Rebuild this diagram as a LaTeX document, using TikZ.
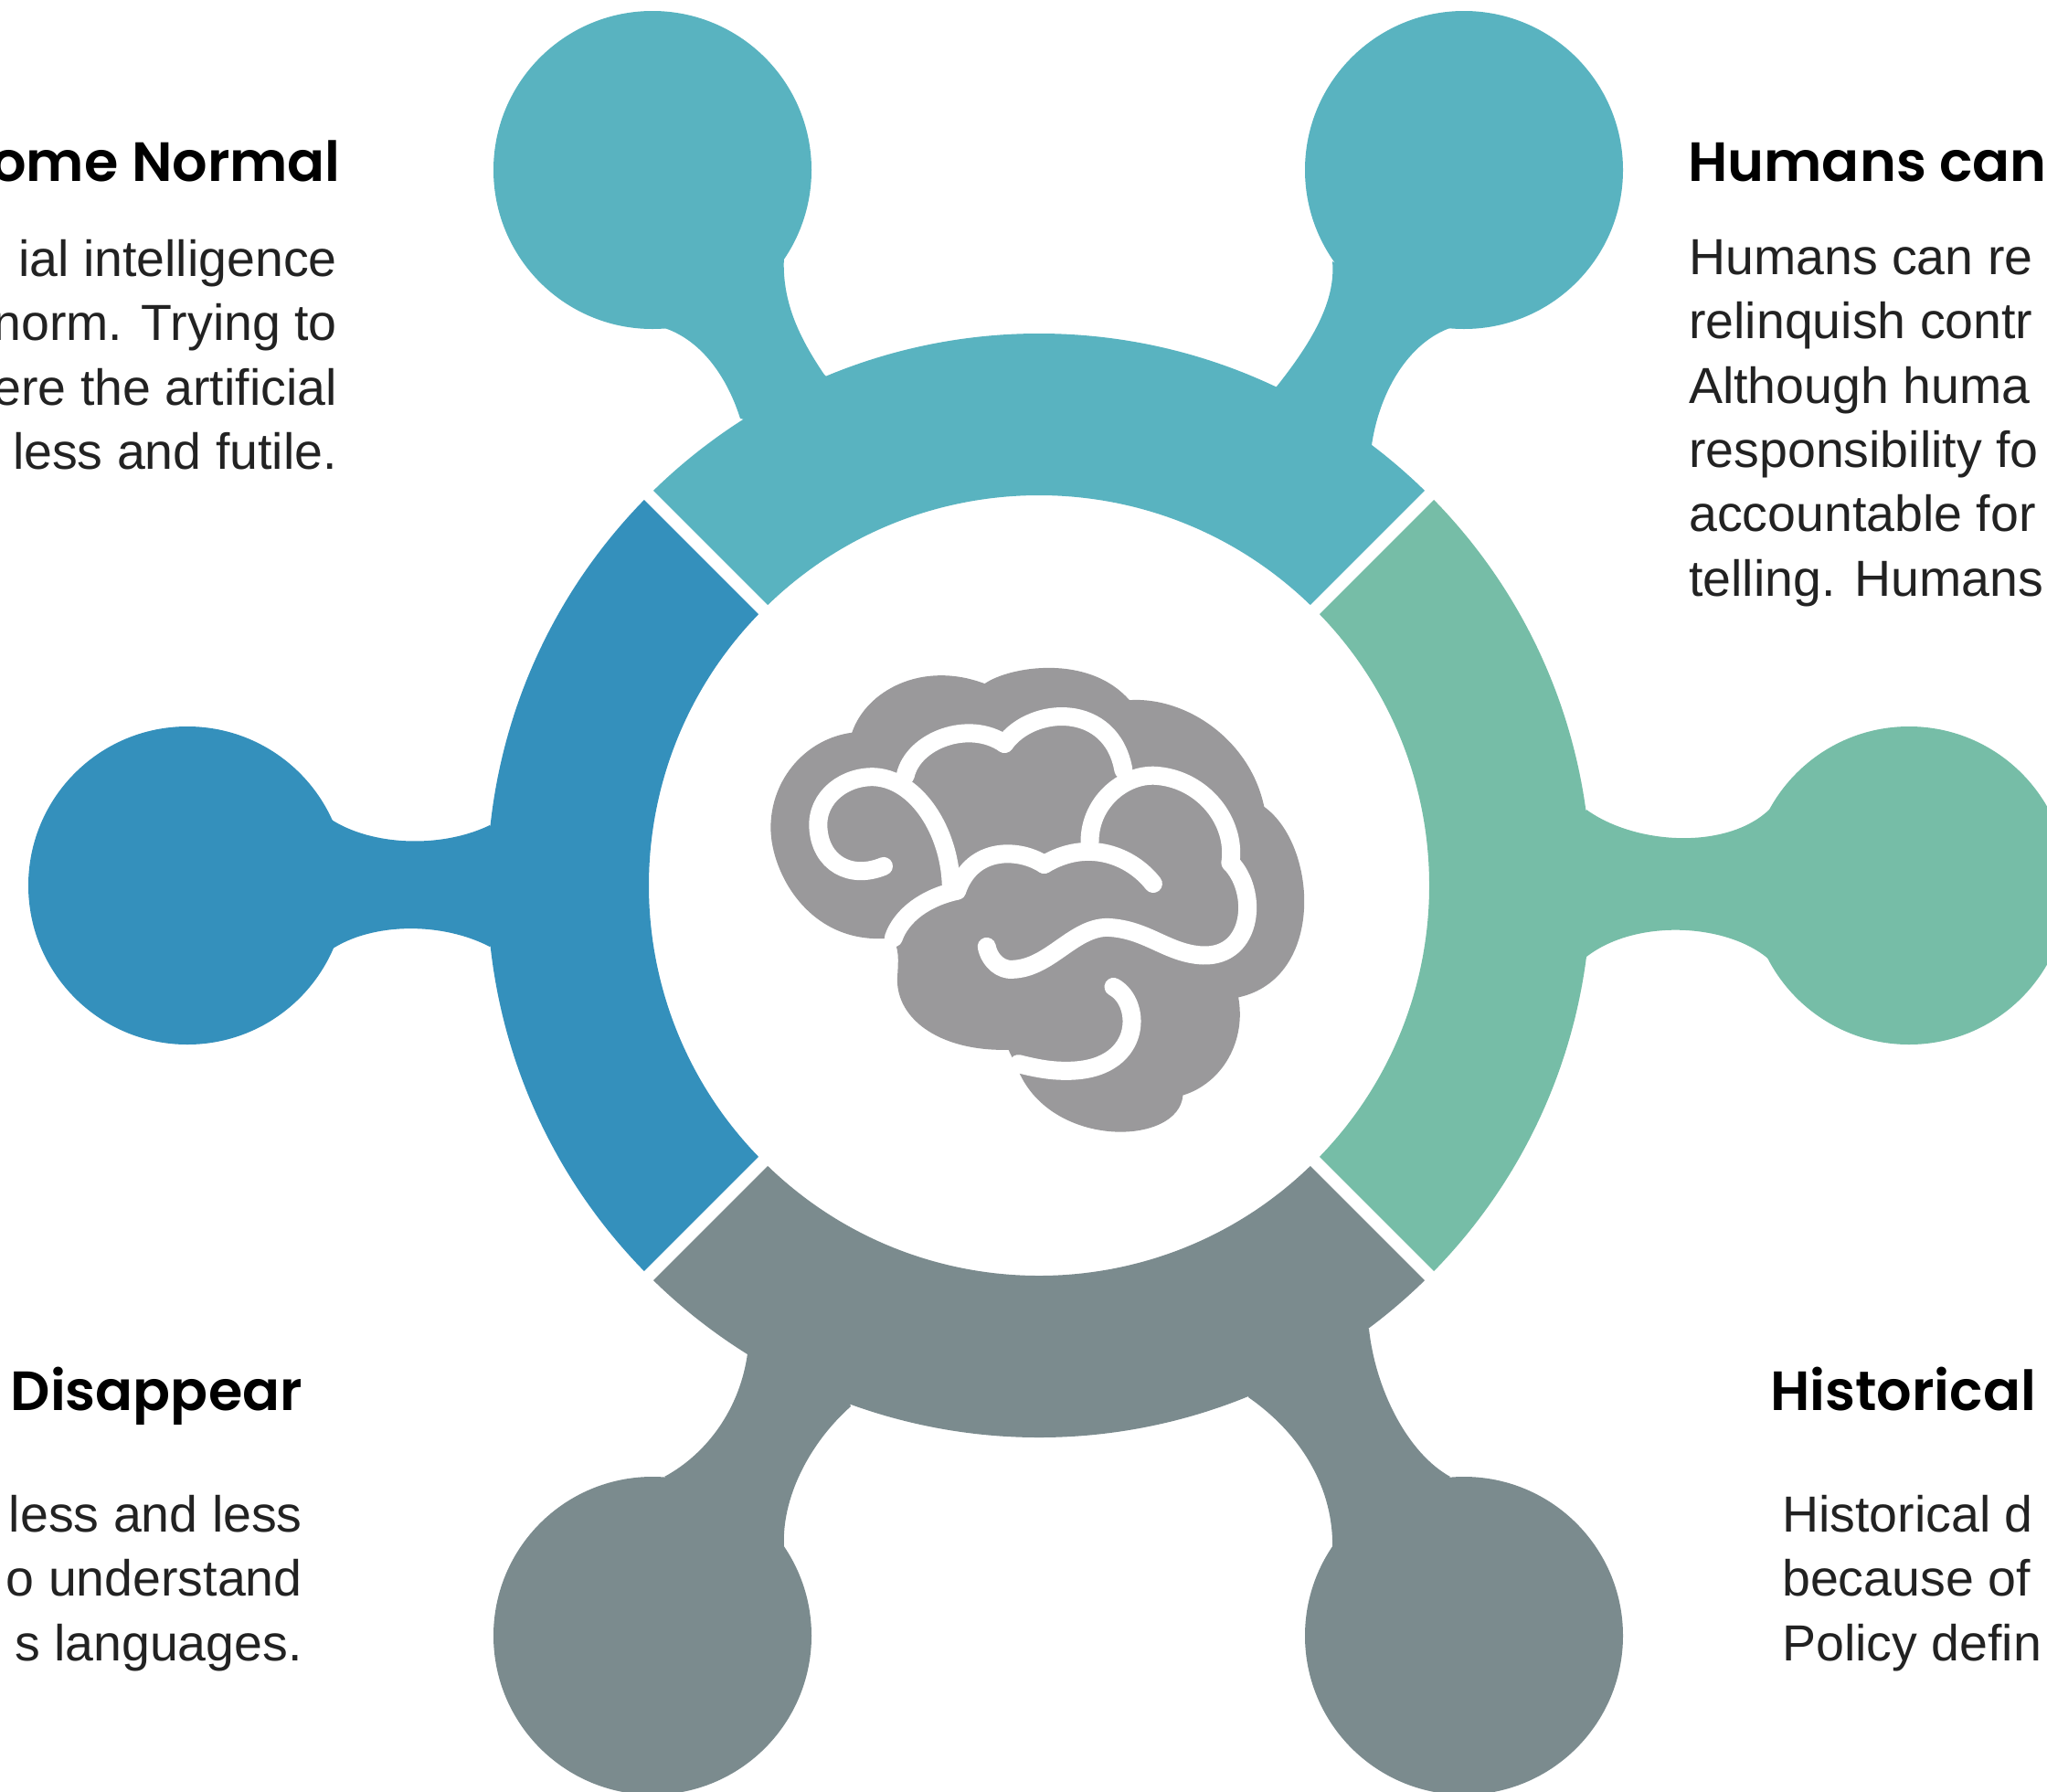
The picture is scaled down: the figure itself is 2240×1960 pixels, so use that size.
\documentclass[tikz,border=0pt]{standalone}
\usepackage{fontspec}
\setmainfont{Liberation Sans}
\newfontfamily\headfont{Poppins SemiBold}
\definecolor{cteal}{HTML}{59B3C0}
\definecolor{cblue}{HTML}{3490BC}
\definecolor{cgreen}{HTML}{76BDA7}
\definecolor{cgrey}{HTML}{7B8B8E}
\definecolor{cbrain}{HTML}{9A999B}
\definecolor{ctext}{HTML}{222222}
\tikzset{
  x=1pt,y=-1pt,
  segm/.style={draw=#1,line width=177pt,line cap=butt},
  gapline/.style={draw=white,line width=14pt},
  fold/.style={draw=white,line width=20pt,line cap=round,line join=round},
  bodytext/.style={inner sep=0pt,text=ctext,font=\fontsize{55.5}{70.4}\selectfont},
  headtext/.style={inner sep=0pt,text=black,font=\headfont\fontsize{60.5}{64}\selectfont},
}
\begin{document}
\begin{tikzpicture}
\clip (0,0) rectangle (2240,1960);
\fill[white] (0,0) rectangle (2240,1960);
\coordinate (c) at (1137,969);
% top left stem and ball
\fill[cteal] (714,186) circle (174pt);
\fill[cteal] (858,280) .. controls (855,330) and (875,370) .. (902,410)
  -- (1000,500) -- (810,458) .. controls (795,410) and (765,370) .. (724,358) -- cycle;
% top right
\fill[cteal] (1602,186) circle (174pt);
\fill[cteal] (1458,286) .. controls (1462,330) and (1435,375) .. (1397,423)
  -- (1300,500) -- (1501,487) .. controls (1510,425) and (1545,370) .. (1593,357) -- cycle;
% left
\fill[cblue] (205,969) circle (174pt);
\fill[cblue] (357,893) .. controls (400,925) and (480,930) .. (536,903)
  -- (600,969) -- (536,1036) .. controls (480,1007) and (400,1010) .. (357,1043) -- cycle;
% right
\fill[cgreen] (2089,969) circle (174pt);
\fill[cgreen] (1936,886) .. controls (1890,930) and (1790,925) .. (1736,886)
  -- (1680,969) -- (1736,1047) .. controls (1790,1005) and (1890,1010) .. (1936,1050) -- cycle;
% bottom left
\fill[cgrey] (714,1790) circle (174pt);
\fill[cgrey] (858,1693) .. controls (855,1640) and (885,1580) .. (931,1539)
  -- (900,1450) -- (818,1481) .. controls (810,1540) and (775,1590) .. (727,1616) -- cycle;
% bottom right
\fill[cgrey] (1602,1790) circle (174pt);
\fill[cgrey] (1458,1696) .. controls (1460,1630) and (1425,1570) .. (1366,1529)
  -- (1400,1450) -- (1498,1454) .. controls (1505,1520) and (1540,1590) .. (1587,1616) -- cycle;
% ring
\draw[segm=cteal]  ([shift={(c)}]135:515.5pt) arc[start angle=135,end angle=45,radius=515.5pt];
\draw[segm=cgreen] ([shift={(c)}]45:515.5pt)  arc[start angle=45,end angle=-45,radius=515.5pt];
\draw[segm=cgrey]  ([shift={(c)}]-45:515.5pt) arc[start angle=-45,end angle=-135,radius=515.5pt];
\draw[segm=cblue]  ([shift={(c)}]225:515.5pt) arc[start angle=225,end angle=135,radius=515.5pt];
\foreach \a in {45,135,225,315}{
  \draw[gapline] ([shift={(c)}]\a:420pt) -- ([shift={(c)}]\a:612pt);
}
% brain
\begin{scope}[shift={(800,680)},x=0.4337pt,y=-0.3827pt]
\fill[cbrain] (640,178) .. controls (700,130) and (900,90) .. (1005,225)
  .. controls (1150,215) and (1310,340) .. (1345,530)
  .. controls (1480,640) and (1500,1020) .. (1280,1075)
  .. controls (1300,1200) and (1240,1320) .. (1140,1355)
  .. controls (1130,1500) and (810,1510) .. (725,1285)
  -- (700,1225)
  .. controls (520,1230) and (410,1130) .. (420,1010)
  .. controls (422,970) and (425,930) .. (405,905)
  .. controls (200,930) and (100,720) .. (100,590)
  .. controls (100,450) and (190,335) .. (305,318)
  .. controls (340,200) and (480,110) .. (640,178) -- cycle;
\draw[fold] (385,700) .. controls (300,740) and (225,690) .. (220,590)
  .. controls (215,500) and (290,440) .. (365,445)
  .. controls (470,455) and (550,600) .. (555,750);
\draw[fold] (440,440) .. controls (460,340) and (600,280) .. (690,350);
\draw[fold] (690,350) .. controls (760,240) and (960,230) .. (990,425);
\draw[fold] (905,630) .. controls (905,510) and (1000,430) .. (1080,442)
  .. controls (1190,455) and (1275,570) .. (1260,690);
\draw[fold] (1260,690) .. controls (1330,770) and (1320,960) .. (1190,955)
  .. controls (1100,950) and (1050,880) .. (950,875)
  .. controls (860,875) and (800,1000) .. (700,995)
  .. controls (670,990) and (650,960) .. (645,930);
\draw[fold] (1065,750) .. controls (1010,670) and (900,620) .. (790,695);
\draw[fold] (790,695) .. controls (730,650) and (610,640) .. (570,770);
\draw[fold] (570,770) .. controls (490,790) and (430,840) .. (410,905);
\draw[fold] (965,1045) .. controls (1040,1090) and (1040,1290) .. (840,1285)
  .. controls (800,1285) and (760,1275) .. (725,1265);
\end{scope}
% texts
\node[headtext,anchor=base east] (h1) at (373,198) {ome Normal};
\node[headtext,anchor=base west] (h2) at (1847,198) {Humans can};
\node[headtext,anchor=base east] (h3) at (331,1543) {Disappear};
\node[headtext,anchor=base west] (h4) at (1937,1543) {Historical};
\node[bodytext,anchor=north east,align=right] (b1) at (369,262) {ial intelligence\\norm. Trying to\\ere the artificial\\less and futile.};
\node[bodytext,anchor=north west,align=left] (b2) at (1848,262) {Humans can re\\relinquish contr\\Although huma\\responsibility fo\\accountable for\\telling. Humans};
\node[bodytext,anchor=north east,align=right] (b3) at (331,1636) {less and less\\o understand\\s languages.};
\node[bodytext,anchor=north west,align=left] (b4) at (1950,1636) {Historical d\\because of\\Policy defin};
\end{tikzpicture}
\end{document}
